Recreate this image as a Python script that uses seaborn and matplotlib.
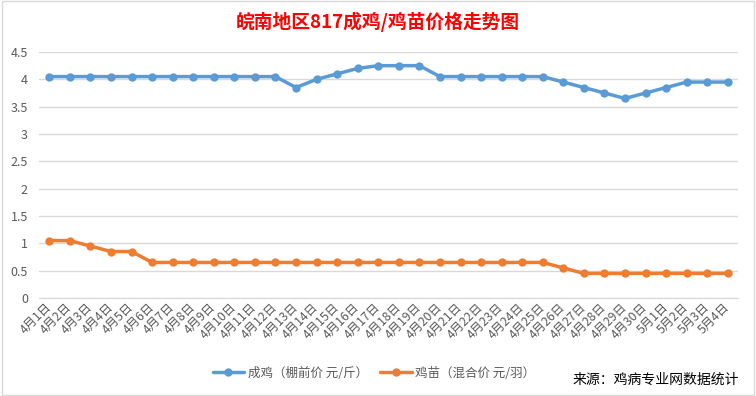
import pandas as pd
import numpy as np
import matplotlib.pyplot as plt
import seaborn as sns
from matplotlib.patches import Rectangle
from matplotlib.lines import Line2D

# dates 4/1 .. 5/4
dates = [f"4月{d}日" for d in range(1, 31)] + [f"5月{d}日" for d in range(1, 5)]

broiler = [4.05, 4.05, 4.05, 4.05, 4.05, 4.05, 4.05, 4.05, 4.05, 4.05,
           4.05, 4.05, 3.85, 4.0, 4.1, 4.2, 4.25, 4.25, 4.25, 4.05,
           4.05, 4.05, 4.05, 4.05, 4.05, 3.95, 3.85, 3.75, 3.65, 3.75,
           3.85, 3.95, 3.95, 3.95]
chick = [1.05, 1.05, 0.95, 0.85, 0.85, 0.65, 0.65, 0.65, 0.65, 0.65,
         0.65, 0.65, 0.65, 0.65, 0.65, 0.65, 0.65, 0.65, 0.65, 0.65,
         0.65, 0.65, 0.65, 0.65, 0.65, 0.55, 0.45, 0.45, 0.45, 0.45,
         0.45, 0.45, 0.45, 0.45]

series_names = ["成鸡（棚前价 元/斤）", "鸡苗（混合价 元/羽）"]
colors = ["#5B9BD5", "#ED7D31"]

df = pd.DataFrame({
    "idx": list(range(len(dates))) * 2,
    "price": broiler + chick,
    "series": [series_names[0]] * len(dates) + [series_names[1]] * len(dates),
})

sns.set_style("white")
plt.rcParams['font.family'] = ['Noto Sans CJK SC', 'DejaVu Sans']

fig = plt.figure(figsize=(7.56, 3.96), dpi=100)
ax = fig.add_axes([0.0516, 0.2475, 0.9247, 0.6212])

sns.lineplot(data=df, x="idx", y="price", hue="series", palette=colors,
             marker="o", markersize=6, markeredgewidth=0, linewidth=2.5,
             sort=False, errorbar=None, ax=ax, clip_on=False, legend=False)

ax.set_xlim(-0.5, len(dates) - 0.5)
ax.set_ylim(0, 4.5)
ax.set_yticks(np.arange(0, 4.51, 0.5))
ax.set_yticklabels(["0", "0.5", "1", "1.5", "2", "2.5", "3", "3.5", "4", "4.5"],
                   color="#595959", fontsize=9)
ax.yaxis.grid(True, color="#D9D9D9", linewidth=1)
ax.set_axisbelow(True)

ax.set_xticks(range(len(dates)))
ax.set_xticklabels(dates, rotation=45, ha="right", va="center",
                   rotation_mode="anchor", color="#595959", fontsize=8.8)
ax.tick_params(axis="x", length=0, pad=5)
ax.tick_params(axis="y", length=0, pad=8)
# category boundary ticks
ax.set_xticks(np.arange(-0.5, len(dates), 1), minor=True)
ax.tick_params(axis="x", which="minor", length=4, color="#D9D9D9")

for s in ["top", "right", "left"]:
    ax.spines[s].set_visible(False)
ax.spines["bottom"].set_color("#D9D9D9")
ax.set_xlabel("")
ax.set_ylabel("")

fig.text(0.5, 0.945, "皖南地区817成鸡/鸡苗价格走势图", ha="center", va="center",
         color="#FF0000", fontsize=13.5, fontweight="bold")

# legend
handles = [Line2D([0], [0], color=c, linewidth=2.5, marker="o", markersize=6,
                  markeredgewidth=0) for c in colors]
fig.legend(handles, series_names, loc="center", bbox_to_anchor=(0.495, 0.058),
           ncol=2, frameon=False, fontsize=9, labelcolor="#595959",
           handlelength=2.5, columnspacing=1.0, handletextpad=0.3)

fig.text(0.978, 0.04, "来源：鸡病专业网数据统计", ha="right", va="center",
         color="#000000", fontsize=10)

fig.patches.append(Rectangle((0.002, 0.003), 0.996, 0.994, transform=fig.transFigure,
                             fill=False, edgecolor="#D9D9D9", linewidth=1))

fig.savefig("out.png", dpi=100)
